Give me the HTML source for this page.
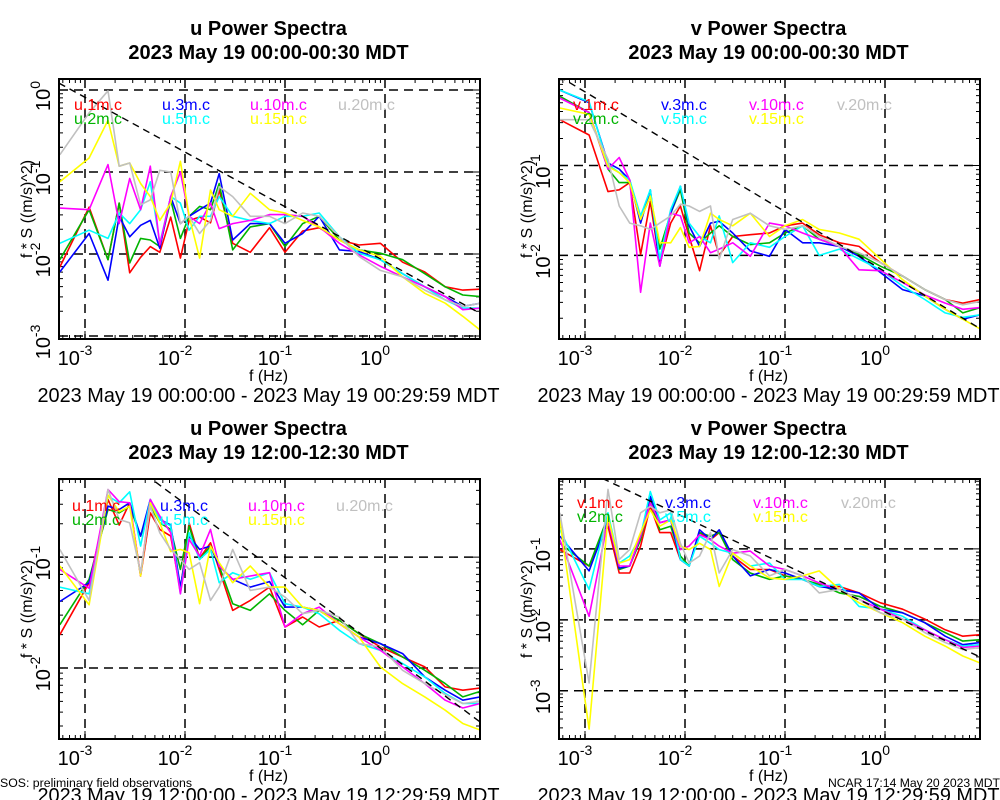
<!DOCTYPE html>
<html><head><meta charset="utf-8"><style>
html,body{margin:0;padding:0;background:#fff;}
svg{display:block;font-family:"Liberation Sans",sans-serif;}
</style></head><body>
<svg id="chart" width="1000" height="800" viewBox="0 0 1000 800" xmlns="http://www.w3.org/2000/svg"></svg>
<script>
// ---- shared data ----
const freqs = [0.00056,0.0011,0.0017,0.0022,0.0028,0.0036,0.0045,0.0056,0.0072,0.009,0.011,0.014,0.018,0.022,0.03,0.045,0.07,0.1,0.15,0.22,0.35,0.55,0.9,1.5,2.5,4,6,9];
const seriesNames = ['1m','2m','3m','5m','10m','15m','20m'];
const seriesColors = ['#ff0000','#00b400','#0000ff','#00ffff','#ff00ff','#ffff00','#c0c0c0'];
// values are log10 of f*S ((m/s)^2)
// panel 1: u, 00:00-00:30
const u00_1m=[-2.16,-1.43,-2.07,-1.38,-2.23,-2.04,-1.91,-1.98,-1.55,-2.05,-1.59,-1.55,-1.62,-1.22,-1.87,-1.98,-1.68,-1.98,-1.72,-1.68,-1.83,-1.89,-1.87,-2.1,-2.22,-2.4,-2.44,-2.43];
const u00_2m=[-2.07,-1.46,-2.07,-1.38,-2.11,-1.81,-1.83,-1.91,-1.34,-1.81,-1.54,-1.42,-1.46,-1.14,-1.95,-1.67,-1.63,-1.91,-1.63,-1.54,-1.83,-1.95,-1.99,-2.07,-2.24,-2.4,-2.5,-2.52];
const u00_3m=[-2.22,-1.75,-2.32,-1.54,-1.79,-1.65,-1.59,-1.93,-1.3,-1.63,-1.54,-1.46,-1.38,-1.02,-1.83,-1.63,-1.63,-1.87,-1.75,-1.54,-1.95,-1.97,-2.07,-2.24,-2.4,-2.52,-2.64,-2.6];
const u00_5m=[-1.87,-1.71,-1.81,-1.5,-1.63,-1.46,-1.12,-1.87,-1.3,-1.38,-1.71,-1.54,-1.54,-1.3,-1.54,-1.59,-1.63,-1.54,-1.54,-1.5,-1.79,-1.99,-2.07,-2.24,-2.4,-2.56,-2.66,-2.66];
const u00_10m=[-1.44,-1.46,-0.91,-1.63,-1.08,-1.46,-0.93,-1.89,-1.3,-1.0,-1.54,-1.63,-1.38,-1.69,-1.63,-1.59,-1.52,-1.52,-1.54,-1.67,-1.87,-2.01,-2.15,-2.28,-2.4,-2.52,-2.68,-2.66];
const u00_15m=[-1.12,-0.83,-0.37,-0.93,-0.89,-1.14,-1.3,-1.59,-1.38,-0.87,-1.54,-2.05,-1.22,-1.46,-1.54,-1.26,-1.46,-1.5,-1.59,-1.67,-1.83,-1.95,-2.03,-2.28,-2.48,-2.6,-2.76,-2.93];
const u00_20m=[-0.79,-0.28,-0.01,-0.93,-0.89,-1.4,-1.34,-0.98,-1.0,-1.63,-1.54,-1.75,-1.59,-1.18,-1.3,-1.54,-1.54,-1.63,-1.5,-1.54,-1.79,-2.03,-2.2,-2.28,-2.44,-2.56,-2.64,-2.6];
// panel 2: v, 00:00-00:30
const v00_1m=[-0.49,-0.66,-1.29,-1.27,-1.19,-1.99,-1.4,-2.1,-1.64,-1.45,-1.79,-2.17,-1.67,-2.0,-1.79,-1.77,-1.75,-1.67,-1.64,-1.77,-1.86,-1.9,-2.08,-2.23,-2.38,-2.49,-2.53,-2.49];
const v00_2m=[-0.23,-0.41,-1.04,-1.19,-1.19,-1.6,-1.34,-1.93,-1.53,-1.27,-1.75,-1.86,-1.75,-1.67,-1.79,-1.88,-1.86,-1.75,-1.67,-1.82,-1.9,-1.99,-2.12,-2.23,-2.38,-2.49,-2.64,-2.58];
const v00_3m=[-0.16,-0.3,-0.97,-1.04,-1.16,-1.64,-1.27,-2.12,-1.53,-1.23,-1.67,-1.9,-1.64,-1.62,-1.75,-1.95,-2.01,-1.71,-1.86,-1.86,-1.9,-2.01,-2.19,-2.38,-2.45,-2.6,-2.71,-2.66];
const v00_5m=[-0.16,-0.29,-0.99,-1.08,-1.16,-1.56,-1.27,-2.04,-1.49,-1.23,-1.64,-1.79,-1.86,-1.56,-2.08,-1.86,-1.91,-1.79,-1.67,-2.0,-1.93,-2.04,-2.16,-2.34,-2.49,-2.64,-2.69,-2.66];
const v00_10m=[-0.25,-0.41,-1.04,-0.91,-1.16,-2.41,-1.64,-2.12,-1.53,-1.56,-1.86,-1.79,-1.97,-1.93,-1.86,-2.01,-1.64,-1.67,-1.75,-1.82,-1.9,-2.16,-2.17,-2.3,-2.44,-2.53,-2.6,-2.58];
const v00_15m=[-0.36,-0.43,-1.01,-1.08,-1.19,-1.6,-1.34,-1.86,-1.86,-1.69,-1.91,-1.9,-1.53,-1.6,-1.67,-1.53,-1.79,-1.67,-1.6,-1.71,-1.75,-1.82,-2.04,-2.27,-2.45,-2.6,-2.71,-2.82];
const v00_20m=[-0.49,-0.49,-0.93,-1.45,-1.64,-1.67,-1.71,-1.64,-1.56,-1.43,-1.45,-1.51,-1.45,-2.04,-1.6,-1.53,-1.67,-1.71,-1.67,-1.79,-1.9,-1.97,-2.08,-2.23,-2.38,-2.49,-2.55,-2.51];
// panel 3: u, 12:00-12:30
const u12_1m=[-1.7,-1.23,-0.48,-0.71,-0.51,-1.17,-0.6,-0.75,-0.81,-1.3,-0.69,-1.01,-0.87,-1.11,-1.48,-1.39,-1.27,-1.63,-1.54,-1.63,-1.57,-1.69,-1.81,-1.9,-1.99,-2.17,-2.2,-2.18];
const u12_2m=[-1.61,-1.2,-0.57,-0.6,-0.54,-0.81,-0.54,-0.69,-0.75,-1.11,-0.72,-1.02,-0.9,-1.08,-1.42,-1.48,-1.33,-1.48,-1.61,-1.48,-1.57,-1.69,-1.78,-1.9,-2.02,-2.14,-2.26,-2.21];
const u12_3m=[-1.4,-1.23,-0.54,-0.57,-0.51,-0.81,-0.48,-0.66,-0.71,-1.27,-0.81,-0.93,-0.9,-1.08,-1.2,-1.27,-1.22,-1.45,-1.45,-1.48,-1.6,-1.72,-1.78,-1.87,-2.08,-2.2,-2.29,-2.26];
const u12_5m=[-1.27,-1.33,-0.45,-0.51,-0.41,-0.9,-0.48,-0.66,-0.72,-1.33,-0.78,-1.02,-0.93,-1.23,-1.14,-1.2,-1.14,-1.42,-1.45,-1.51,-1.66,-1.78,-1.84,-1.96,-2.08,-2.23,-2.32,-2.32];
const u12_10m=[-1.11,-1.28,-0.39,-0.5,-0.51,-1.17,-0.48,-0.63,-0.78,-1.33,-0.84,-0.99,-0.75,-1.08,-1.2,-1.17,-1.14,-1.63,-1.51,-1.45,-1.6,-1.72,-1.84,-1.99,-2.14,-2.29,-2.36,-2.32];
const u12_15m=[-1.08,-1.43,-0.44,-0.59,-0.54,-1.17,-0.51,-0.69,-0.95,-0.93,-0.96,-1.42,-0.9,-1.05,-1.23,-1.08,-1.27,-1.27,-1.45,-1.48,-1.6,-1.72,-1.99,-2.14,-2.26,-2.38,-2.5,-2.56];
const u12_20m=[-0.93,-1.39,-0.39,-0.66,-0.69,-1.14,-0.54,-0.78,-0.93,-1.02,-1.11,-1.05,-1.39,-1.27,-0.93,-1.3,-1.27,-1.36,-1.51,-1.48,-1.54,-1.78,-1.81,-2.02,-2.14,-2.24,-2.32,-2.3];
// panel 4: v, 12:00-12:30
const v12_1m=[-1.01,-1.24,-0.68,-1.34,-1.34,-0.96,-0.4,-0.77,-0.77,-1.15,-1.24,-0.77,-0.87,-0.77,-1.1,-1.29,-1.29,-1.38,-1.43,-1.53,-1.53,-1.62,-1.76,-1.85,-1.99,-2.14,-2.23,-2.21];
const v12_2m=[-0.92,-1.24,-0.54,-1.29,-1.24,-0.87,-0.31,-0.73,-0.68,-1.1,-1.24,-0.77,-0.82,-0.77,-1.15,-1.34,-1.43,-1.38,-1.43,-1.5,-1.62,-1.67,-1.81,-1.9,-2.04,-2.18,-2.3,-2.28];
const v12_3m=[-0.82,-1.31,-0.59,-1.27,-1.24,-0.82,-0.26,-0.63,-0.59,-1.15,-1.24,-0.73,-0.87,-0.73,-1.1,-1.38,-1.29,-1.34,-1.43,-1.53,-1.57,-1.62,-1.85,-1.9,-2.04,-2.23,-2.35,-2.32];
const v12_5m=[-0.73,-1.57,-0.49,-1.2,-1.1,-0.82,-0.19,-0.59,-0.49,-1.15,-1.24,-0.82,-0.92,-1.01,-1.06,-1.24,-1.2,-1.43,-1.43,-1.53,-1.5,-1.81,-1.85,-1.95,-2.14,-2.28,-2.37,-2.35];
const v12_10m=[-0.87,-1.95,-0.59,-1.24,-1.24,-0.82,-0.35,-0.63,-0.59,-1.01,-0.96,-0.8,-0.87,-0.96,-1.06,-1.03,-1.24,-1.29,-1.38,-1.48,-1.57,-1.71,-1.85,-1.99,-2.14,-2.28,-2.39,-2.37];
const v12_15m=[-0.59,-3.54,-0.54,-1.2,-1.15,-0.77,-0.45,-0.68,-0.59,-0.96,-1.01,-0.92,-1.01,-1.53,-1.06,-1.24,-1.41,-1.43,-1.38,-1.31,-1.57,-1.76,-1.9,-2.04,-2.23,-2.37,-2.51,-2.61];
const v12_20m=[-0.49,-2.89,-0.16,-1.15,-1.01,-0.49,-0.4,-0.49,-0.45,-0.92,-1.2,-1.1,-0.77,-1.34,-1.01,-1.1,-1.38,-1.29,-1.38,-1.62,-1.57,-1.71,-1.9,-1.99,-2.18,-2.32,-2.42,-2.39];
// reference line f^(-2/3): log10 value at f = 1e-3 per panel
const refAt1e3 = [-0.09, -0.18, 0.148, 0.11];
const xTickExps = [-3,-2,-1,0];

const panels = [
 {key:'u-0000', comp:'u', title1:'u Power Spectra', title2:'2023 May 19 00:00-00:30 MDT', range:'2023 May 19 00:00:00 - 2023 May 19 00:29:59 MDT',
  x0:59,y0:79,yTop:0.134,yBot:-3.037,yTicks:[0,-1,-2,-3], data:[u00_1m,u00_2m,u00_3m,u00_5m,u00_10m,u00_15m,u00_20m], leg:[74,110]},
 {key:'v-0000', comp:'v', title1:'v Power Spectra', title2:'2023 May 19 00:00-00:30 MDT', range:'2023 May 19 00:00:00 - 2023 May 19 00:29:59 MDT',
  x0:559,y0:79,yTop:-0.037,yBot:-2.93,yTicks:[-1,-2], data:[v00_1m,v00_2m,v00_3m,v00_5m,v00_10m,v00_15m,v00_20m], leg:[573,110]},
 {key:'u-1200', comp:'u', title1:'u Power Spectra', title2:'2023 May 19 12:00-12:30 MDT', range:'2023 May 19 12:00:00 - 2023 May 19 12:29:59 MDT',
  x0:59,y0:479,yTop:-0.295,yBot:-2.64,yTicks:[-1,-2], data:[u12_1m,u12_2m,u12_3m,u12_5m,u12_10m,u12_15m,u12_20m], leg:[72,511]},
 {key:'v-1200', comp:'v', title1:'v Power Spectra', title2:'2023 May 19 12:00-12:30 MDT', range:'2023 May 19 12:00:00 - 2023 May 19 12:29:59 MDT',
  x0:559,y0:479,yTop:-0.014,yBot:-3.68,yTicks:[-1,-2,-3], data:[v12_1m,v12_2m,v12_3m,v12_5m,v12_10m,v12_15m,v12_20m], leg:[577,508]}
];

const NS='http://www.w3.org/2000/svg';
const svg=document.getElementById('chart');
function mk(tag, attrs, parent){
  const e=document.createElementNS(NS,tag);
  for(const k in attrs) e.setAttribute(k,attrs[k]);
  (parent||svg).appendChild(e); return e;
}
const W=421, H=260, xLo=-3.26, xHi=0.95;
const legendCols=[[0,1],[2,3],[4,5],[6]];

panels.forEach((p,pi)=>{
  const g=mk('g',{});
  
  
  const xs=lf=>p.x0+(lf-xLo)/(xHi-xLo)*W;
  const ys=lv=>p.y0+(p.yTop-lv)/(p.yTop-p.yBot)*H;
  const cx=p.x0+W/2-1;
  // titles
  const t1=mk('text',{x:cx,y:35,'text-anchor':'middle','font-size':20,'font-weight':'bold',transform:'translate(0,'+(p.y0-79)+')'},g);
  t1.textContent=p.title1;
  
  
  const t2=mk('text',{x:cx,y:59,'text-anchor':'middle','font-size':20,'font-weight':'bold',transform:'translate(0,'+(p.y0-79)+')'},g);
  t2.textContent=p.title2;
  
  
  // clip
  const cid='clip'+pi;
  const cp=mk('clipPath',{id:cid},g);
  mk('rect',{x:p.x0,y:p.y0,width:W,height:H},cp);
  // grid
  xTickExps.forEach(e=>{
    const x=xs(e);
    const gl=mk('line',{x1:x,x2:x,y1:p.y0,y2:p.y0+H,stroke:'#000','stroke-width':1.5,'stroke-dasharray':'9,6'},g);
    
    
  });
  p.yTicks.forEach(e=>{
    const y=ys(e);
    const gl=mk('line',{x1:p.x0,x2:p.x0+W,y1:y,y2:y,stroke:'#000','stroke-width':1.5,'stroke-dasharray':'9,6'},g);
    
    
  });
  // minor ticks
  let tk='';
  for(let d=-4; d<=1; d++){
    for(let m=1;m<=9;m++){
      const lf=d+Math.log10(m); if(lf<xLo||lf>xHi) continue;
      const x=xs(lf), L=m===1?8:4;
      tk+=`M${x},${p.y0+H}v${-L}M${x},${p.y0}v${L}`;
    }
  }
  for(let d=-5; d<=1; d++){
    for(let m=1;m<=9;m++){
      const lv=d+Math.log10(m); if(lv>p.yTop||lv<p.yBot) continue;
      const y=ys(lv), L=m===1?8:4;
      tk+=`M${p.x0},${y}h${L}M${p.x0+W},${y}h${-L}`;
    }
  }
  const ticks=mk('path',{d:tk,stroke:'#000','stroke-width':1,fill:'none'},g);
  
  
  // series
  const sg=mk('g',{'clip-path':`url(#${cid})`},g);
  p.data.forEach((vals,si)=>{
    const pts=vals.map((v,i)=>xs(Math.log10(freqs[i])).toFixed(1)+','+ys(v).toFixed(1)).join(' ');
    const pl=mk('polyline',{points:pts,fill:'none',stroke:seriesColors[si],'stroke-width':1.6,'stroke-linejoin':'round'},sg);
    
    
  });
  // reference slope line
  const r0=refAt1e3[pi];
  const rl=mk('line',{x1:xs(xLo),y1:ys(r0-(2/3)*(xLo+3)),x2:xs(xHi),y2:ys(r0-(2/3)*(xHi+3)),stroke:'#000','stroke-width':1.4,'stroke-dasharray':'7,5','clip-path':`url(#${cid})`},g);
  
  
  // legend
  legendCols.forEach((col,ci)=>{
    col.forEach((si,ri)=>{
      const lt=mk('text',{x:p.leg[0]+ci*88,y:p.leg[1]+ri*14,'font-size':16,fill:seriesColors[si]},g);
      lt.textContent=p.comp+'.'+seriesNames[si]+'.c';
      
      
    });
  });
  // frame
  const fr=mk('rect',{x:p.x0,y:p.y0,width:W,height:H,fill:'none',stroke:'#000','stroke-width':2},g);
  
  
  // x tick labels
  xTickExps.forEach(e=>{
    const t=mk('text',{x:xs(e)-10,y:p.y0+286,'text-anchor':'middle','font-size':20},g);
    
    
    t.appendChild(document.createTextNode('10'));
    const s=mk('tspan',{dy:-10,'font-size':14},t);
    s.textContent=String(e);
  });
  // y tick labels
  p.yTicks.forEach(e=>{
    const y=ys(e);
    const t=mk('text',{x:0,y:0,'text-anchor':'middle','font-size':20,transform:`translate(${p.x0-9},${y+6}) rotate(-90)`},g);
    
    
    t.appendChild(document.createTextNode('10'));
    const s=mk('tspan',{dy:-10,'font-size':14},t);
    s.textContent=String(e);
  });
  // axis titles
  const xt=mk('text',{x:cx,y:p.y0+302,'text-anchor':'middle','font-size':16},g);
  xt.textContent='f (Hz)';
  
  
  const yt=mk('text',{x:0,y:0,'text-anchor':'middle','font-size':16,transform:`translate(${p.x0-27},${p.y0+H/2}) rotate(-90)`},g);
  yt.textContent='f * S ((m/s)^2)';
  
  
  const dr=mk('text',{x:cx,y:p.y0+323,'text-anchor':'middle','font-size':20,textLength:462,lengthAdjust:'spacingAndGlyphs'},g);
  dr.textContent=p.range;
  
  
});
const f1=mk('text',{x:0,y:787,'font-size':12.3});
f1.textContent='SOS: preliminary field observations';


const f2=mk('text',{x:1000,y:787,'font-size':12.2,'text-anchor':'end'});
f2.textContent='NCAR 17:14 May 20 2023 MDT';


</script>
</body></html>
